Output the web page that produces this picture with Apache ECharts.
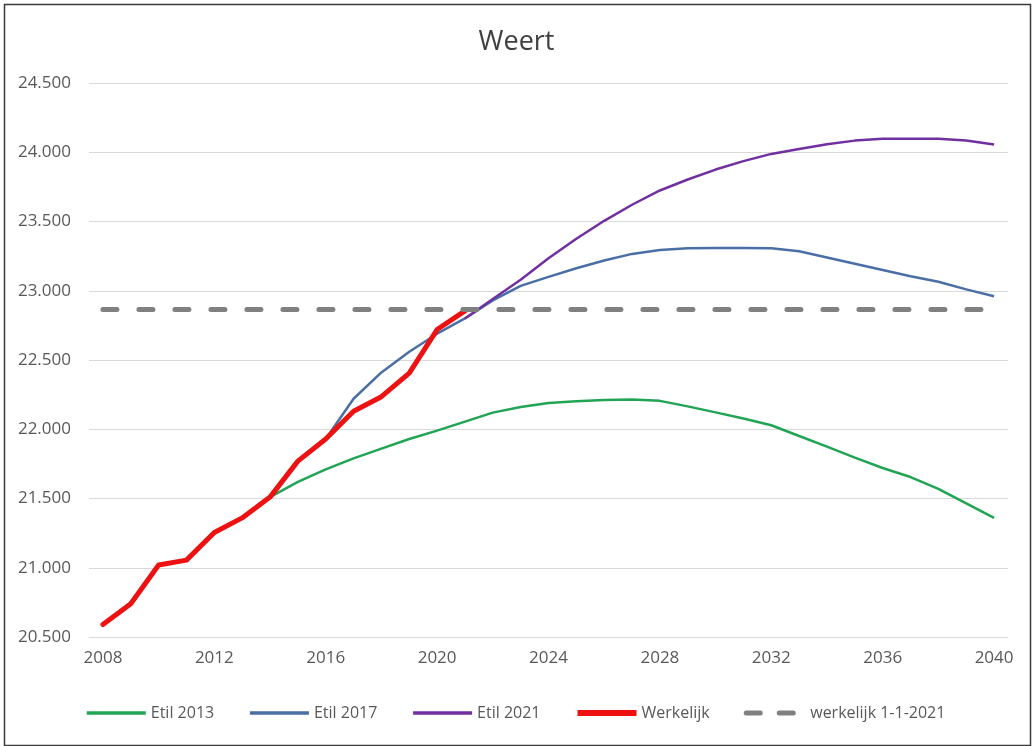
<!DOCTYPE html>
<html>
<head>
<meta charset="utf-8">
<script src="https://cdn.jsdelivr.net/npm/echarts@6/dist/echarts.min.js"></script>
<style>
html,body{margin:0;padding:0;background:#fff;}
#chart{width:1033px;height:746px;}
</style>
</head>
<body>
<div id="chart"></div>
<script>
const years = ['2008','2009','2010','2011','2012','2013','2014','2015','2016','2017','2018','2019','2020','2021','2022','2023','2024','2025','2026','2027','2028','2029','2030','2031','2032','2033','2034','2035','2036','2037','2038','2039','2040'];

// Werkelijk (actual) 2008-2021
const werkelijk = [20590, 20740, 21020, 21055, 21255, 21360, 21510, 21770, 21930, 22130, 22235, 22405, 22720, 22855];

// Etil 2013 from 2014 onwards
const etil2013 = [null,null,null,null,null,null,
  21510, 21620, 21710, 21790, 21860, 21930, 21990, 22055, 22120, 22160, 22190, 22202, 22212, 22215, 22205, 22165, 22122, 22078, 22029, 21951, 21875, 21795, 21720, 21655, 21570, 21465, 21360];

// Etil 2017 from 2016 onwards
const etil2017 = [null,null,null,null,null,null,null,null,
  21930, 22220, 22410, 22560, 22690, 22800, 22930, 23035, 23100, 23162, 23218, 23266, 23295, 23307, 23308, 23308, 23307, 23285, 23240, 23195, 23150, 23105, 23065, 23010, 22960];

// Etil 2021 from 2021 onwards
const etil2021 = [null,null,null,null,null,null,null,null,null,null,null,null,null,
  22800, 22940, 23080, 23235, 23375, 23505, 23621, 23724, 23803, 23875, 23936, 23988, 24024, 24058, 24084, 24097, 24098, 24098, 24085, 24056];

// werkelijk 1-1-2021 reference level
const werkelijk2021 = [22865,22865,22865,22865,22865,22865,22865,22865,22865,22865,22865,22865,22865,22865,22865,22865,22865,22865,22865,22865,22865,22865,22865,22865,22865,22865,22865,22865,22865,22865,22865,22865,22865];

const yMin = 20500, yMax = 24500, yStep = 500;
const seriesNames = ['Etil 2013','Etil 2017','Etil 2021','Werkelijk','werkelijk 1-1-2021'];
const seriesColors = ['#22a455','#4a6fa5','#7030a0','#ee1111','#808080'];

function nl(v){ return String(v).replace(/\B(?=(\d{3})+(?!\d))/g, '.'); }

const font = '"Open Sans", "Noto Sans", sans-serif';
const legendWidths = [3.5, 3.5, 3.5, 6, 5];
const chart = echarts.init(document.getElementById('chart'), null, {renderer:'canvas'});
chart.setOption({
  animation:false,
  backgroundColor:'#fff',
  title:{
    text:'Weert', left:'center', top:24,
    textStyle:{fontFamily:font, fontSize:27, fontWeight:'normal', color:'#404040'}
  },
  grid:{left:89, right:25, top:83, bottom:109, containLabel:false},
  xAxis:{
    type:'category', data:years, boundaryGap:true,
    axisLine:{lineStyle:{color:'#d9d9d9', width:1}},
    axisTick:{show:false},
    axisLabel:{interval:3, fontFamily:font, fontSize:17, color:'#595959', margin:13}
  },
  yAxis:{
    type:'value', min:yMin, max:yMax, interval:yStep,
    axisLine:{show:false}, axisTick:{show:false},
    splitLine:{lineStyle:{color:'#d9d9d9', width:1}},
    axisLabel:{fontFamily:font, fontSize:17, color:'#595959', margin:18, formatter:nl}
  },
  legend:{
    bottom:20, left:80, itemWidth:59, itemHeight:14, itemGap:34,
    itemStyle:{opacity:0},
    textStyle:{fontFamily:font, fontSize:16, color:'#595959'},
    data:seriesNames.map((n,i)=>({
      name:n,
      lineStyle: i===4
        ? {color:seriesColors[i], width:legendWidths[i], type:[14,19], cap:'round'}
        : {color:seriesColors[i], width:legendWidths[i], cap:'butt'}
    }))
  },
  graphic:[{
    type:'rect', left:2, top:2, z:100,
    shape:{x:0,y:0,width:1026,height:741},
    style:{fill:'none', stroke:'#3a3a3a', lineWidth:1.5}
  }],
  series:[
    {name:seriesNames[0], type:'line', data:etil2013, symbol:'none',
     lineStyle:{color:seriesColors[0], width:2.5}, itemStyle:{color:seriesColors[0]}},
    {name:seriesNames[1], type:'line', data:etil2017, symbol:'none',
     lineStyle:{color:seriesColors[1], width:2.5}, itemStyle:{color:seriesColors[1]}},
    {name:seriesNames[2], type:'line', data:etil2021, symbol:'none',
     lineStyle:{color:seriesColors[2], width:2.5}, itemStyle:{color:seriesColors[2]}},
    {name:seriesNames[3], type:'line', data:werkelijk, symbol:'none',
     lineStyle:{color:seriesColors[3], width:5, join:'round', cap:'round'}, itemStyle:{color:seriesColors[3]}},
    {name:seriesNames[4], type:'line', data:werkelijk2021, symbol:'none',
     lineStyle:{color:seriesColors[4], width:5, type:[14,22], cap:'round'}, itemStyle:{color:seriesColors[4]}}
  ]
});
</script>
</body>
</html>
